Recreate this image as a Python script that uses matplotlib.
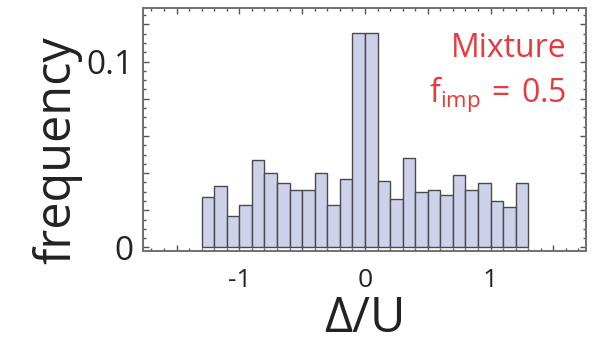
import numpy as np
import matplotlib
matplotlib.use("Agg")
import matplotlib.pyplot as plt
from matplotlib.ticker import MultipleLocator

plt.rcParams['font.family'] = ['Open Sans', 'DejaVu Sans']
plt.rcParams['mathtext.fontset'] = 'custom'
plt.rcParams['mathtext.rm'] = 'Open Sans'
plt.rcParams['mathtext.it'] = 'Open Sans'

# histogram of Delta/U, bins of width 0.1 from -1.3 to 1.3
bin_start = -1.3
bin_width = 0.1
freq = [0.0271, 0.0330, 0.0168, 0.0231, 0.0468, 0.0400, 0.0349, 0.0310, 0.0310,
        0.0400, 0.0231, 0.0369, 0.1152, 0.1152, 0.0360, 0.0260, 0.0480, 0.0301,
        0.0310, 0.0280, 0.0391, 0.0310, 0.0349, 0.0249, 0.0220, 0.0349]
x_tick_pos = [-1.5, -1.0, -0.5, 0.0, 0.5, 1.0, 1.5]
x_tick_lab = ['', '-1', '', '0', '', '1', '']
y_tick_pos = [0.0, 0.02, 0.04, 0.06, 0.08, 0.1, 0.12]
y_tick_lab = ['0', '', '', '', '', '0.1', '']

W, H = 607, 343
fig = plt.figure(figsize=(W / 100, H / 100), dpi=100)
ax = fig.add_axes([143.3 / W, 1 - 251 / H, (586 - 143.3) / W, (251 - 8) / H])

lefts = bin_start + bin_width * np.arange(len(freq))
ax.bar(lefts, freq, width=bin_width, align='edge', color='#cdd1e9',
       edgecolor='#4a4a4a', linewidth=1.0)

ax.set_xlim(-1.765, 1.76)
ax.set_ylim(-0.0019, 0.1288)

ax.set_xticks(x_tick_pos)
ax.set_xticklabels(x_tick_lab)
ax.xaxis.set_minor_locator(MultipleLocator(0.1))
ax.set_yticks(y_tick_pos)
ax.set_yticklabels(y_tick_lab)
ax.yaxis.set_minor_locator(MultipleLocator(0.005))

ax.tick_params(which='both', direction='in', top=True, right=True, color='#555555', width=1.0)
ax.tick_params(which='major', length=4.5)
ax.tick_params(which='minor', length=2.5)
ax.tick_params(axis='x', which='major', labelsize=19, pad=12, labelcolor='#222222')
ax.tick_params(axis='y', which='major', labelsize=24, pad=7, labelcolor='#222222')

for s in ax.spines.values():
    s.set_color('#707070')
    s.set_linewidth(1.4)

fig.text(57.5 / W, 1 - 150 / H, 'frequency', rotation=90, ha='center', va='center',
         fontsize=35, color='#222222')
fig.text(365 / W, 1 - 332 / H, 'Δ/U', ha='center', va='baseline',
         fontsize=35, color='#222222')

red = '#e8393d'
fig.text(566 / W, 1 - 57 / H, 'Mixture', ha='right', va='baseline', fontsize=23, color=red)
fig.text(566 / W, 1 - 102 / H, r'$\mathregular{f_{imp}\,=\,0.5}$', ha='right', va='baseline',
         fontsize=23, color=red)

fig.savefig('out.png', dpi=100)
